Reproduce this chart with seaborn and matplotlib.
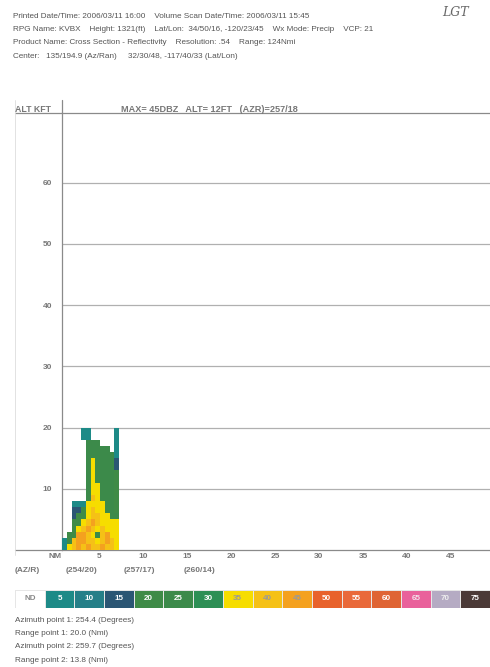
import numpy as np
import pandas as pd
import matplotlib
matplotlib.use('Agg')
import matplotlib.pyplot as plt
import seaborn as sns
from matplotlib.colors import ListedColormap, BoundaryNorm
from matplotlib.lines import Line2D
from matplotlib.transforms import ScaledTranslation

# --- data
header_lines = [
    "Printed Date/Time: 2006/03/11 16:00    Volume Scan Date/Time: 2006/03/11 15:45",
    "RPG Name: KVBX    Height: 1321(ft)    Lat/Lon:  34/50/16, -120/23/45    Wx Mode: Precip    VCP: 21",
    "Product Name: Cross Section - Reflectivity    Resolution: .54    Range: 124Nmi",
    "Center:   135/194.9 (Az/Ran)     32/30/48, -117/40/33 (Lat/Lon)",
]
footer_lines = [
    "Azimuth point 1: 254.4 (Degrees)",
    "Range point 1: 20.0 (Nmi)",
    "Azimuth point 2: 259.7 (Degrees)",
    "Range point 2: 13.8 (Nmi)",
]
max_text = "MAX= 45DBZ   ALT= 12FT   (AZR)=257/18"

dbz_levels = [0, 5, 10, 15, 20, 25, 30, 35, 40, 45, 50, 55, 60, 65, 70, 75]
dbz_labels = ["ND", "5", "10", "15", "20", "25", "30", "35", "40", "45",
              "50", "55", "60", "65", "70", "75"]
dbz_colors = ["#ffffff", "#1d8a87", "#257f88", "#2b5674", "#3f8b47", "#3c8a4a",
              "#2d8f55", "#f6dd00", "#f5c116", "#f4a11f", "#e8622c", "#e9693a",
              "#df6434", "#e9619b", "#b5abc3", "#4b3a37"]
label_colors = ["#888888", "white", "white", "white", "white", "white", "white",
                "#999999", "#999999", "#999999", "white", "white", "white",
                "#f3e0ea", "#eeeeee", "white"]

alt_ticks = [10, 20, 30, 40, 50, 60]
range_ticks = [0, 5, 10, 15, 20, 25, 30, 35, 40, 45]
range_labels = ["NM", "5", "10", "15", "20", "25", "30", "35", "40", "45"]
azran_labels = ["(AZ/R)", "(254/20)", "(257/17)", "(260/14)"]
azran_pos = [-4.0, 2.2, 8.8, 15.6]

# reflectivity cells: rows 19..0 kft (top to bottom), 12 bins of .54 nm
N = np.nan
cells = [
    [N, N, N, N, 5, 5, N, N, N, N, N, 5],
    [N, N, N, N, 5, 5, N, N, N, N, N, 5],
    [N, N, N, N, N, 25, 25, 25, N, N, N, 5],
    [N, N, N, N, N, 25, 25, 25, 25, 25, N, 5],
    [N, N, N, N, N, 25, 25, 25, 25, 25, 25, 5],
    [N, N, N, N, N, 25, 35, 25, 25, 25, 25, 15],
    [N, N, N, N, N, 25, 35, 25, 25, 25, 25, 15],
    [N, N, N, N, N, 25, 35, 25, 25, 25, 25, 20],
    [N, N, N, N, N, 25, 35, 25, 25, 25, 25, 20],
    [N, N, N, N, N, 25, 35, 35, 25, 25, 25, 20],
    [N, N, N, N, N, 25, 35, 35, 25, 25, 25, 20],
    [N, N, N, N, N, 25, 40, 35, 25, 25, 25, 20],
    [N, N, 5, 5, 5, 35, 35, 35, 35, 25, 25, 20],
    [N, N, 15, 15, 20, 35, 40, 35, 35, 25, 25, 20],
    [N, N, 15, 20, 20, 35, 40, 40, 35, 35, 25, 25],
    [N, N, 20, 20, 35, 40, 45, 40, 35, 35, 35, 35],
    [N, N, 20, 35, 40, 45, 40, 35, 40, 35, 35, 35],
    [N, 20, 20, 45, 45, 40, 35, 25, 40, 45, 35, 35],
    [5, 20, 40, 45, 45, 40, 40, 35, 40, 45, 40, 35],
    [5, 35, 40, 45, 40, 45, 40, 40, 45, 40, 40, 35],
]
bin_nm = 0.54
alt_rows = list(range(19, -1, -1))
grid = pd.DataFrame(cells, index=alt_rows)

# --- figure
sns.set_style("white")
plt.rcParams['font.family'] = ['Liberation Sans', 'DejaVu Sans']

W, H = 490, 667
fig = plt.figure(figsize=(W / 100, H / 100), dpi=100)
fig.patch.set_facecolor("white")

def fx(px):
    return px / W

def fy(py):
    return 1 - py / H

ax_l, ax_r, ax_t, ax_b = 62, 490, 113, 550
ax = fig.add_axes([fx(ax_l), fy(ax_b), fx(ax_r - ax_l), fy(ax_t) - fy(ax_b)])
ax.set_xlim(0, (ax_r - ax_l) / 8.8)
ax.set_ylim(0, (ax_b - ax_t) / 6.12)

ax.spines["right"].set_visible(False)
for side in ["left", "top", "bottom"]:
    ax.spines[side].set_color("#8a8a8a")
    ax.spines[side].set_linewidth(0.9)

ax.set_yticks(alt_ticks)
ax.set_yticklabels([str(v) for v in alt_ticks])
ax.yaxis.grid(True, color="#b0b0b0", linewidth=0.9)
ax.tick_params(axis="y", length=0, pad=7, labelsize=6, labelcolor="#777777")

ax.set_xticks(range_ticks)
ax.set_xticklabels(range_labels)
ax.tick_params(axis="x", direction="in", length=4.5, width=0.8, color="#999999",
               pad=2, labelsize=6, labelcolor="#777777")
for lbl in ax.get_xticklabels() + ax.get_yticklabels():
    lbl.set_fontweight("bold")
for lbl in ax.get_xticklabels():
    lbl.set_transform(lbl.get_transform() + ScaledTranslation(-7 / 100, 0, fig.dpi_scale_trans))

for txt, xp in zip(azran_labels, azran_pos):
    ax.text(xp, -20 / (ax_b - ax_t), txt, transform=ax.get_xaxis_transform(),
            ha="center", va="center", fontsize=6, color="#777777",
            fontweight="bold", clip_on=False)

# storm cross section drawn with seaborn heatmap in an inset tied to data coords
cmap = ListedColormap(dbz_colors)
bounds = [lv - 2.5 for lv in dbz_levels] + [dbz_levels[-1] + 2.5]
norm = BoundaryNorm(bounds, cmap.N)
ins = ax.inset_axes([0, 0, bin_nm * grid.shape[1], grid.shape[0]], transform=ax.transData)
sns.heatmap(grid, ax=ins, cmap=cmap, norm=norm, cbar=False,
            xticklabels=False, yticklabels=False)
ins.axis("off")

# extra frame lines reaching to the left page margin
line_c = "#8a8a8a"
fig.add_artist(Line2D([fx(15), fx(ax_l)], [fy(ax_t), fy(ax_t)], color=line_c, lw=0.9))
fig.add_artist(Line2D([fx(15), fx(ax_l)], [fy(ax_b), fy(ax_b)], color=line_c, lw=0.9))
fig.add_artist(Line2D([fx(ax_l), fx(ax_l)], [fy(ax_t), fy(100)], color=line_c, lw=0.9))
fig.add_artist(Line2D([fx(15), fx(15)], [fy(100), fy(555)], color="#dddddd", lw=0.6))

fig.text(fx(15), fy(110), "ALT KFT", fontsize=6.3, color="#777777",
         fontweight="bold", va="center", ha="left")
fig.text(fx(121), fy(110), max_text, fontsize=6.6, color="#777777",
         fontweight="bold", va="center", ha="left")

# header text
for i, line in enumerate(header_lines):
    fig.text(fx(13), fy(16 + 13.5 * i), line, fontsize=5.9, color="#555555",
             va="center", ha="left")
fig.text(fx(442), fy(12), "LGT", fontsize=9, color="#666666", style="italic",
         family="DejaVu Serif", va="center", ha="left")

# colour legend strip
cax = fig.add_axes([fx(15), fy(608), fx(490 - 15), fy(590) - fy(608)])
strip = pd.DataFrame([dbz_levels])
sns.heatmap(strip, ax=cax, cmap=cmap, norm=norm, cbar=False,
            annot=np.array([dbz_labels]), fmt="",
            annot_kws={"fontsize": 5.8, "fontweight": "bold"},
            linewidths=0.6, linecolor="#e6e6e6",
            xticklabels=False, yticklabels=False)
for t, c in zip(cax.texts, label_colors):
    t.set_color(c)
cax.tick_params(length=0)

for i, line in enumerate(footer_lines):
    fig.text(fx(15), fy(620 + 13.5 * i), line, fontsize=5.9, color="#555555",
             va="center", ha="left")

fig.savefig("out.png", dpi=100)
